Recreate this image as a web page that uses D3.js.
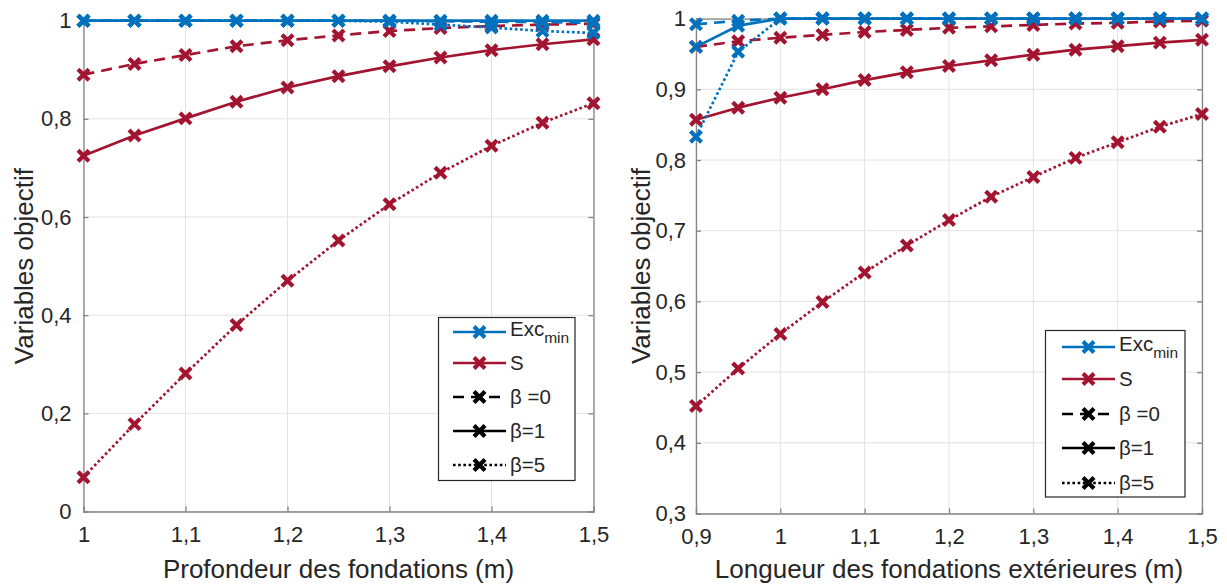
<!DOCTYPE html>
<html><head><meta charset="utf-8">
<script src="https://cdnjs.cloudflare.com/ajax/libs/d3/7.8.5/d3.min.js"></script>
<style>
html,body{margin:0;padding:0;background:#fff;}
svg{display:block;font-family:"Liberation Sans",Arial,Helvetica,sans-serif;}
</style></head>
<body><svg id="chart" width="1227" height="585"></svg>
<script>
// ---------- data ----------
const xLeft = [1, 1.05, 1.1, 1.15, 1.2, 1.25, 1.3, 1.35, 1.4, 1.45, 1.5];
const leftExcB0 = [1, 1, 1, 1, 1, 1, 1, 0.999, 0.998, 0.997, 0.996];
const leftExcB1 = [1, 1, 1, 1, 1, 1, 1, 1, 1, 1, 1];
const leftExcB5 = [1, 1, 1, 1, 1, 1, 0.998, 0.992, 0.986, 0.979, 0.975];
const leftSB0 = [0.89, 0.912, 0.93, 0.948, 0.96, 0.97, 0.979, 0.985, 0.989, 0.992, 0.994];
const leftSB1 = [0.725, 0.766, 0.801, 0.835, 0.864, 0.887, 0.907, 0.925, 0.94, 0.952, 0.962];
const leftSB5 = [0.07, 0.178, 0.281, 0.38, 0.47, 0.552, 0.626, 0.69, 0.745, 0.792, 0.832];

const xRight = [0.9, 0.95, 1, 1.05, 1.1, 1.15, 1.2, 1.25, 1.3, 1.35, 1.4, 1.45, 1.5];
const rightExcB0 = [0.992, 0.997, 1, 1, 1, 1, 1, 1, 1, 1, 1, 1, 1];
const rightExcB1 = [0.96, 0.99, 1, 1, 1, 1, 1, 1, 1, 1, 1, 1, 1];
const rightExcB5 = [0.833, 0.953, 1, 1, 1, 1, 1, 1, 1, 1, 1, 1, 1];
const rightSB0 = [0.96, 0.968, 0.973, 0.977, 0.981, 0.984, 0.987, 0.989, 0.991, 0.993, 0.994, 0.996, 0.997];
const rightSB1 = [0.857, 0.874, 0.888, 0.9, 0.913, 0.924, 0.933, 0.941, 0.949, 0.956, 0.961, 0.966, 0.97];
const rightSB5 = [0.452, 0.505, 0.554, 0.599, 0.641, 0.679, 0.715, 0.748, 0.776, 0.803, 0.825, 0.847, 0.865];

const leftXTicks = [1, 1.1, 1.2, 1.3, 1.4, 1.5];
const leftYTicks = [0, 0.2, 0.4, 0.6, 0.8, 1];
const rightXTicks = [0.9, 1, 1.1, 1.2, 1.3, 1.4, 1.5];
const rightYTicks = [0.3, 0.4, 0.5, 0.6, 0.7, 0.8, 0.9, 1];

const yLabel = "Variables objectif";
const leftXLabel = "Profondeur des fondations (m)";
const rightXLabel = "Longueur des fondations extérieures (m)";
const legendLabels = ["Exc", "S", "β =0", "β=1", "β=5"];

// ---------- style ----------
const BLUE = "#0072BD", RED = "#A2142F";
const AXIS = "#858585", GRID = "#e2e2e2", TXT = "#262626";
const DASH = {b0: "11,7", b1: null, b5: "2.6,2.6"};
const fmt = v => String(+v.toFixed(2)).replace(".", ",");

const svg = d3.select("#chart");

function panel(cfg) {
  const x = d3.scaleLinear().domain(cfg.xDomain).range(cfg.xRange);
  const y = d3.scaleLinear().domain(cfg.yDomain).range(cfg.yRange);
  const g = svg.append("g");
  const [x0, x1] = cfg.xRange, [y0, y1] = cfg.yRange; // y0 bottom, y1 top

  // grid
  g.append("g").selectAll("line.gx").data(cfg.xTicks).join("line")
    .attr("x1", d => x(d)).attr("x2", d => x(d)).attr("y1", y0).attr("y2", y1)
    .attr("stroke", GRID).attr("stroke-width", 1);
  g.append("g").selectAll("line.gy").data(cfg.yTicks).join("line")
    .attr("x1", x0).attr("x2", x1).attr("y1", d => y(d)).attr("y2", d => y(d))
    .attr("stroke", GRID).attr("stroke-width", 1);

  // axes using d3 axis (inward ticks)
  const ax = d3.axisBottom(x).tickValues(cfg.xTicks).tickSize(-5).tickFormat(fmt).tickPadding(15);
  const gx = g.append("g").attr("transform", `translate(0,${y0})`).call(ax);
  const ay = d3.axisLeft(y).tickValues(cfg.yTicks).tickSize(-5).tickFormat(fmt).tickPadding(cfg.yPad);
  const gy = g.append("g").attr("transform", `translate(${x0},0)`).call(ay);
  const axT = d3.axisTop(x).tickValues(cfg.xTicks).tickSize(-5).tickFormat("");
  const gxt = g.append("g").attr("transform", `translate(0,${y1})`).call(axT);
  const ayR = d3.axisRight(y).tickValues(cfg.yTicks).tickSize(-5).tickFormat("");
  const gyr = g.append("g").attr("transform", `translate(${x1},0)`).call(ayR);
  [gx, gy, gxt, gyr].forEach(a => {
    a.select(".domain").attr("stroke", AXIS).attr("stroke-width", 1.3);
    a.selectAll(".tick line").attr("stroke", AXIS).attr("stroke-width", 1.3);
    a.selectAll(".tick text").attr("fill", TXT).attr("font-size", 22)
      .attr("font-family", "Liberation Sans, Arial, sans-serif");
  });
  gx.selectAll(".tick text").attr("dy", "0.71em");

  // axis titles
  g.append("text").attr("x", (x0 + x1) / 2).attr("y", 578)
    .attr("text-anchor", "middle").attr("font-size", 26).attr("fill", TXT).text(cfg.xLabel);
  g.append("text").attr("transform", `translate(${cfg.yLabelX},${(y0 + y1) / 2}) rotate(-90)`)
    .attr("text-anchor", "middle").attr("font-size", 26).attr("fill", TXT).text(yLabel);

  // series
  const line = d3.line().x(d => x(d[0])).y(d => y(d[1]));
  const marker = "M-5.5,-5.5L5.5,5.5M-5.5,5.5L5.5,-5.5";
  cfg.series.forEach(s => {
    const pts = cfg.xs.map((v, i) => [v, s.values[i]]);
    g.append("path").datum(pts).attr("d", line).attr("fill", "none")
      .attr("stroke", s.color).attr("stroke-width", 2.7)
      .attr("stroke-dasharray", s.dash).attr("stroke-linejoin", "round");
    g.append("g").selectAll("path").data(pts).join("path")
      .attr("transform", d => `translate(${x(d[0])},${y(d[1])})`)
      .attr("d", marker).attr("stroke", s.color).attr("stroke-width", 4.2).attr("fill", "none");
  });

  // legend
  const L = cfg.legend;
  const lg = g.append("g");
  lg.append("rect").attr("x", L.x).attr("y", L.y).attr("width", L.w).attr("height", L.h)
    .attr("fill", "#fff").attr("stroke", "#262626").attr("stroke-width", 1.2);
  const items = [
    {c: BLUE, d: null}, {c: RED, d: null}, {c: "#000", d: DASH.b0}, {c: "#000", d: DASH.b1}, {c: "#000", d: DASH.b5}
  ];
  items.forEach((it, i) => {
    const yy = L.rows[i];
    lg.append("line").attr("x1", L.lx0).attr("x2", L.lx1).attr("y1", yy).attr("y2", yy)
      .attr("stroke", it.c).attr("stroke-width", 2.7).attr("stroke-dasharray", it.d);
    lg.append("path").attr("transform", `translate(${(L.lx0 + L.lx1) / 2},${yy})`)
      .attr("d", marker).attr("stroke", it.c).attr("stroke-width", 4.2).attr("fill", "none");
    const t = lg.append("text").attr("x", L.tx).attr("y", yy).attr("dy", "0.36em")
      .attr("font-size", 20.5).attr("fill", TXT);
    if (i === 0) {
      t.attr("dy", "0.2em");
      t.append("tspan").text(legendLabels[i]);
      t.append("tspan").attr("font-size", 15.5).attr("dy", "0.45em").text("min");
    } else t.text(legendLabels[i]);
  });
}

panel({
  xDomain: [1, 1.5], xRange: [83.5, 593.5], yDomain: [0, 1], yRange: [511.5, 20.7],
  xTicks: leftXTicks, yTicks: leftYTicks, xs: xLeft, xLabel: leftXLabel, yLabelX: 33, yPad: 12,
  series: [
    {values: leftSB0, color: RED, dash: DASH.b0},
    {values: leftSB1, color: RED, dash: DASH.b1},
    {values: leftSB5, color: RED, dash: DASH.b5},
    {values: leftExcB0, color: BLUE, dash: DASH.b0},
    {values: leftExcB1, color: BLUE, dash: DASH.b1},
    {values: leftExcB5, color: BLUE, dash: DASH.b5}
  ],
  legend: {x: 438.5, y: 317.5, w: 136.5, h: 163, lx0: 453, lx1: 506, tx: 510, rows: [332, 363, 397, 431, 465]}
});

panel({
  xDomain: [0.9, 1.5], xRange: [696, 1202], yDomain: [0.3, 1], yRange: [513.5, 18.6],
  xTicks: rightXTicks, yTicks: rightYTicks, xs: xRight, xLabel: rightXLabel, yLabelX: 650, yPad: 10,
  series: [
    {values: rightSB0, color: RED, dash: DASH.b0},
    {values: rightSB1, color: RED, dash: DASH.b1},
    {values: rightSB5, color: RED, dash: DASH.b5},
    {values: rightExcB0, color: BLUE, dash: DASH.b0},
    {values: rightExcB1, color: BLUE, dash: DASH.b1},
    {values: rightExcB5, color: BLUE, dash: DASH.b5}
  ],
  legend: {x: 1045.5, y: 330.5, w: 139.5, h: 166.5, lx0: 1062, lx1: 1115, tx: 1119, rows: [347, 379, 414, 448, 483]}
});
</script></body></html>
